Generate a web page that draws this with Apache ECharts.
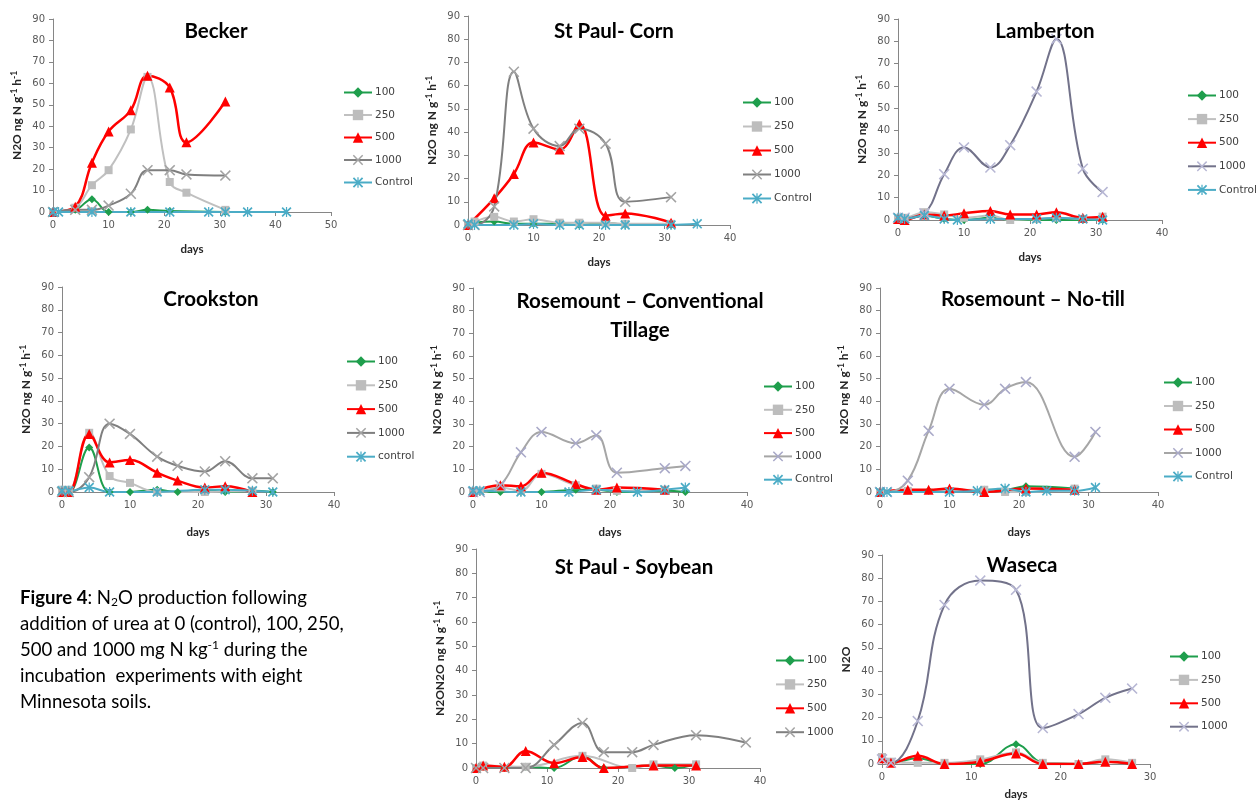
<!DOCTYPE html>
<html>
<head>
<meta charset="utf-8">
<script src="https://cdn.jsdelivr.net/npm/echarts@6/dist/echarts.min.js"></script>
<style>
  html, body { margin: 0; padding: 0; background: #ffffff; }
  #chart { width: 1257px; height: 801px; }
</style>
</head>
<body>
<div id="chart"></div>
<script>
// N2O production (ng N g-1 h-1) by day of incubation, per soil and urea rate.
// Each series is a list of [day, value] pairs.

// Becker
const becker100 = [[0,0],[4,1],[7,6],[10,0],[14,0],[17,1],[21,0.5],[31,0]];
const becker250 = [[0,0],[4,2],[7,12.5],[10,19.5],[14,38.5],[17,63],[21,14],[24,9],[31,1]];
const becker500 = [[0,0],[4,2.5],[7,23],[10,37.5],[14,47.5],[17,63.5],[21,58],[24,32.5],[31,51.5]];
const becker1000 = [[0,0],[4,1],[7,1],[10,3],[14,8.5],[17,19.5],[21,19.5],[24,17.5],[31,17]];
const beckerControl = [[0,0],[1,0],[7,0],[14,0],[21,0],[28,0],[31,0],[35,0],[42,0]];

// St Paul - Corn
const corn100 = [[0,0],[1,1],[4,1.5],[7,0.5],[10,0.5],[14,0.5],[17,0],[21,1],[24,0],[31,0]];
const corn250 = [[0,0],[1,1.5],[4,3.5],[7,1.5],[10,2.5],[14,1],[17,1],[21,1],[24,0.5],[31,0.5]];
const corn500 = [[0,0],[4,11.5],[7,22],[10,35.5],[14,32.5],[17,43.5],[21,4],[24,5],[31,1]];
const corn1000 = [[0,0],[1,0],[4,8],[7,66],[10,41.5],[14,34],[17,41.5],[21,35],[24,10],[31,12]];
const cornControl = [[0,0.5],[1,0],[7,0],[10,0.5],[14,0],[17,0],[21,0],[24,0],[31,0],[35,0.5]];

// Lamberton
const lamb100 = [[0,0.5],[1,0.5],[4,2],[7,0.5],[10,0],[14,1],[17,0],[21,0],[24,0],[28,0],[31,0]];
const lamb250 = [[0,1],[1,1],[4,3.5],[7,2.5],[10,1],[14,2],[17,0],[21,0.5],[24,1],[28,0.5],[31,1.5]];
const lamb500 = [[0,0.5],[1,0],[4,2.5],[7,2],[10,3],[14,4],[17,2.5],[21,2.5],[24,3.5],[28,1],[31,1.5]];
const lamb1000 = [[0,1],[1,1],[4,3],[7,20.5],[10,32.5],[14,23.5],[17,33.5],[21,57.5],[24,81],[28,23],[31,12.5]];
const lambControl = [[0,1],[1,0.5],[4,2],[7,0.5],[9,0],[14,0.5],[21,0.5],[24,1],[28,0.5],[31,0]];

// Crookston
const crook100 = [[0,0],[1,0],[4,19.5],[7,0],[10,0],[14,1],[17,0],[21,1],[24,0],[28,0.5],[31,0]];
const crook250 = [[0,1],[1,1],[4,26],[7,7],[10,4],[14,0],[21,0],[28,0.5]];
const crook500 = [[0,0],[1,0],[4,25.5],[7,13],[10,14],[14,8.5],[17,5],[21,2],[24,2.5],[28,0]];
const crook1000 = [[0,0],[1,0],[4,6.5],[7,30],[10,25.5],[14,15.5],[17,11.5],[21,9],[24,13.5],[28,6],[31,6]];
const crookControl = [[0,0.5],[1,0.5],[4,2],[7,0],[14,0],[21,1],[24,1],[28,0.5],[31,0]];

// Rosemount - Conventional Tillage
const rct100 = [[0,0],[1,0],[4,0],[7,0],[10,0],[15,1],[18,1],[21,0],[28,0.5],[31,0]];
const rct250 = [[0,0.5],[1,0.5],[4,2],[7,0.5],[10,8],[15,3],[18,1.5],[21,0.5],[28,1]];
const rct500 = [[0,0],[4,3],[7,2.5],[10,8.5],[15,3.5],[18,1],[21,2],[28,1]];
const rct1000 = [[0,0],[1,0],[4,3],[7,17.5],[10,26.5],[15,21.5],[18,25],[21,8.5],[28,10.5],[31,11.5]];
const rctControl = [[0,0.5],[1,0.5],[7,0],[14,0],[18,1],[24,0],[28,1],[31,2]];

// Rosemount - No-till
const rnt100 = [[0,0],[4,0.5],[7,0.5],[10,0.5],[15,1],[18,1],[21,2.5],[28,1.5]];
const rnt250 = [[0,0],[4,0.5],[15,1],[18,0],[21,0],[28,1.5]];
const rnt500 = [[0,0],[4,1],[7,1],[10,1.5],[15,0],[21,1.5],[28,1]];
const rnt1000 = [[0,0],[1,0],[4,5],[7,27],[10,45.5],[15,38.5],[18,45.5],[21,48.5],[28,15.5],[31,26.5]];
const rntControl = [[0,0],[1,0],[10,0],[14,0.5],[18,1.5],[21,0],[24,0.5],[28,0.5],[31,2]];

// St Paul - Soybean
const soy100 = [[0,0],[1,0.5],[4,0],[7,0.5],[11,0],[15,5],[18,0],[25,1],[28,0],[31,1.5]];
const soy250 = [[0,0],[1,1],[7,0.5],[15,5],[22,0],[25,1.5],[31,1.5]];
const soy500 = [[0,0],[1,1],[4,0.5],[7,7],[11,2],[15,4.5],[18,0],[25,1],[31,1]];
const soy1000 = [[0,0],[1,0],[4,0],[7,0],[11,9.5],[15,18.5],[18,6.5],[22,6.5],[25,9.5],[31,13.5],[38,10.5]];

// Waseca
const was100 = [[0,2],[1,0.5],[4,2.5],[7,0],[11,0],[15,8.5],[18,0.5],[22,0],[25,1],[28,0]];
const was250 = [[0,3],[1,1],[4,0.5],[7,0.5],[11,2],[15,5],[18,0.5],[22,0],[25,2],[28,0.5]];
const was500 = [[0,2.5],[1,0.5],[4,3.5],[7,0],[11,1],[15,4.5],[18,0],[22,0],[25,1],[28,0]];
const was1000 = [[0,2],[1,0.5],[4,18.5],[7,68.5],[11,79],[15,75],[18,15.5],[22,21.5],[25,28.5],[28,32.5]];

// Axis tick labels
const yTicks = [0, 10, 20, 30, 40, 50, 60, 70, 80, 90];

// ---------------------------------------------------------------------------
// Panel definitions: which data goes where
const panels = [
  { title: 'Becker', series: [['100', becker100], ['250', becker250], ['500', becker500], ['1000', becker1000], ['Control', beckerControl]],
    xMax: 50, yName: 'full', xName: true, tone: 'dark' },
  { title: 'St Paul- Corn', series: [['100', corn100], ['250', corn250], ['500', corn500], ['1000', corn1000], ['Control', cornControl]],
    xMax: 40, yName: 'full', xName: true, tone: 'dark' },
  { title: 'Lamberton', series: [['100', lamb100], ['250', lamb250], ['500', lamb500], ['1000', lamb1000], ['Control', lambControl]],
    xMax: 40, yName: 'full', xName: true, tone: 'slate' },
  { title: 'Crookston', series: [['100', crook100], ['250', crook250], ['500', crook500], ['1000', crook1000], ['control', crookControl]],
    xMax: 40, yName: 'full', xName: true, tone: 'dark' },
  { title: 'Rosemount \u2013 Conventional\nTillage', series: [['100', rct100], ['250', rct250], ['500', rct500], ['1000', rct1000], ['Control', rctControl]],
    xMax: 40, yName: 'full', xName: true, tone: 'light' },
  { title: 'Rosemount \u2013 No-till', series: [['100', rnt100], ['250', rnt250], ['500', rnt500], ['1000', rnt1000], ['Control', rntControl]],
    xMax: 40, yName: 'full', xName: true, tone: 'light' },
  { title: 'St Paul - Soybean', series: [['100', soy100], ['250', soy250], ['500', soy500], ['1000', soy1000]],
    xMax: 40, yName: 'double', xName: false, tone: 'dark' },
  { title: 'Waseca', series: [['100', was100], ['250', was250], ['500', was500], ['1000', was1000]],
    xMax: 30, yName: 'short', xName: true, tone: 'slate' }
];

// Layout of each panel (plot box, title centre, legend origin and gap)
const layouts = [
  { grid: [53, 19, 278, 193],  title: [216, 31],  legend: [343, 86, 9.5],   xGap: 31 },
  { grid: [468, 16, 262, 209], title: [614, 31],  legend: [742, 96, 11],     xGap: 31 },
  { grid: [898, 19, 264, 201], title: [1045, 31], legend: [1187, 89, 10.6],  xGap: 31 },
  { grid: [62, 287, 272, 205], title: [211, 299], legend: [346, 355, 10.8],  xGap: 34 },
  { grid: [473, 288, 274, 204], title: [640, 299], legend: [763, 380, 10.3], xGap: 34 },
  { grid: [880, 288, 278, 204], title: [1033, 299], legend: [1163, 376, 10.5], xGap: 34 },
  { grid: [476, 549, 284, 219], title: [634, 567], legend: [775, 654, 10.9], xGap: 30 },
  { grid: [882, 555, 268, 211], title: [1022, 565], legend: [1169, 650, 10.4], xGap: 24 }
];

// Marker shapes drawn as filled outlines
const crossPath = 'path://M0,1L1,0L5,4L9,0L10,1L6,5L10,9L9,10L5,6L1,10L0,9L4,5Z';
const starPath = 'path://M0,1.2L1.2,0L5,3.8L8.8,0L10,1.2L6.2,5L10,8.8L8.8,10L5,6.2L1.2,10L0,8.8L3.8,5Z' +
                 'M4.4,0L5.6,0L5.6,10L4.4,10Z';

const tones1000 = {
  dark:  { line: '#7f7f7f', mark: '#a3a3a3' },
  slate: { line: '#72728a', mark: '#b7b7d4' },
  light: { line: '#a6a6a6', mark: '#a9a9c8' }
};

function seriesStyle(label, tone) {
  const key = label.toLowerCase();
  if (key === '100') return { line: '#1e9e4c', mark: '#1e9e4c', symbol: 'diamond', size: 8, width: 2 };
  if (key === '250') return { line: '#c0c0c0', mark: '#bdbdbd', symbol: 'rect', size: 8, width: 2 };
  if (key === '500') return { line: '#ff0000', mark: '#ff0000', symbol: 'triangle', size: 10, width: 2.5 };
  if (key === '1000') return { line: tones1000[tone].line, mark: tones1000[tone].mark, symbol: crossPath, size: 11, width: 2 };
  return { line: '#4bacc6', mark: '#4bacc6', symbol: starPath, size: 10, width: 2 };
}

const yNames = {
  full: 'N2O ng N g{s|-1} h{s|-1}',
  double: 'N2ON2O ng N g{s|-1} h{s|-1}',
  short: 'N2O'
};

const tickFont = { fontFamily: 'DejaVu Sans', fontSize: 10, color: '#595959' };
const axisGrey = '#868686';

const option = {
  backgroundColor: '#ffffff',
  animation: false,
  title: [], grid: [], xAxis: [], yAxis: [], legend: [], series: [],
  graphic: []
};

panels.forEach((p, i) => {
  const L = layouts[i];
  option.grid.push({ left: L.grid[0], top: L.grid[1], width: L.grid[2], height: L.grid[3], containLabel: false });

  const twoLine = p.title.indexOf('\n') >= 0;
  option.title.push({
    text: p.title,
    left: L.title[0],
    top: L.title[1] - 12,
    textAlign: 'center',
    padding: 0,
    textStyle: { fontFamily: 'Lato', fontWeight: 'bold', fontSize: 20.5, color: '#000000', lineHeight: twoLine ? 29 : 24 }
  });

  option.xAxis.push({
    gridIndex: i, type: 'value', min: 0, max: p.xMax, interval: 10,
    name: p.xName ? 'days' : '', nameLocation: 'middle', nameGap: L.xGap,
    nameTextStyle: { fontFamily: 'Lato', fontWeight: 'bold', fontSize: 11.5, color: '#262626' },
    axisLine: { show: true, onZero: false, lineStyle: { color: axisGrey, width: 1 } },
    axisTick: { show: true, inside: false, length: 4, lineStyle: { color: axisGrey } },
    axisLabel: Object.assign({ margin: 8 }, tickFont),
    splitLine: { show: false }
  });

  option.yAxis.push({
    gridIndex: i, type: 'value', min: yTicks[0], max: yTicks[yTicks.length - 1], interval: yTicks[1] - yTicks[0],
    name: yNames[p.yName], nameLocation: 'middle', nameRotate: 90, nameGap: 29,
    nameTextStyle: {
      fontFamily: 'Lato', fontWeight: 'bold', fontSize: 12, color: '#262626', lineHeight: 13,
      rich: { s: { fontFamily: 'Lato', fontWeight: 'bold', fontSize: 8.5, lineHeight: 8, color: '#262626', padding: [0, 0, 7, 0] } }
    },
    axisLine: { show: true, onZero: false, lineStyle: { color: axisGrey, width: 1 } },
    axisTick: { show: true, inside: false, length: 4, lineStyle: { color: axisGrey } },
    axisLabel: Object.assign({ margin: 8 }, tickFont),
    splitLine: { show: false }
  });

  const names = [];
  p.series.forEach(([label, data]) => {
    const st = seriesStyle(label, p.tone);
    const name = p.title + '|' + label;
    names.push(name);
    option.series.push({
      type: 'line', name: name, xAxisIndex: i, yAxisIndex: i,
      data: data, smooth: 0.4,
      symbol: st.symbol, symbolSize: st.size, showSymbol: true,
      lineStyle: { color: st.line, width: st.width },
      itemStyle: { color: st.mark, borderWidth: 0 },
      emphasis: { disabled: true },
      clip: true
    });
  });

  option.legend.push({
    orient: 'vertical', left: L.legend[0], top: L.legend[1],
    itemGap: L.legend[2], itemWidth: 28, itemHeight: 13,
    selectedMode: false, padding: 0,
    data: names,
    formatter: (n) => n.split('|')[1],
    textStyle: { fontFamily: 'DejaVu Sans', fontSize: 10.5, color: '#404040', lineHeight: 13, padding: [0, 0, 0, -2] }
  });
});

// Figure caption
option.graphic.push({
  type: 'text', left: 20, top: 585,
  style: {
    text: '{b|Figure 4}: N{sub|2}O production following\n' +
          'addition of urea at 0 (control), 100, 250,\n' +
          '500 and 1000 mg N kg{sup|-1} during the\n' +
          'incubation  experiments with eight\n' +
          'Minnesota soils.',
    fontFamily: 'Lato', fontSize: 18.6, fill: '#000000', lineHeight: 26,
    rich: {
      b: { fontFamily: 'Lato', fontWeight: 'bold', fontSize: 18.6, fill: '#000000' },
      sub: { fontFamily: 'Lato', fontSize: 12, lineHeight: 12, fill: '#000000', padding: [8, 0, 0, 0] },
      sup: { fontFamily: 'Lato', fontSize: 12, lineHeight: 12, fill: '#000000', padding: [0, 0, 9, 0] }
    }
  }
});

const chart = echarts.init(document.getElementById('chart'), null, { renderer: 'canvas' });
chart.setOption(option);
</script>
</body>
</html>
